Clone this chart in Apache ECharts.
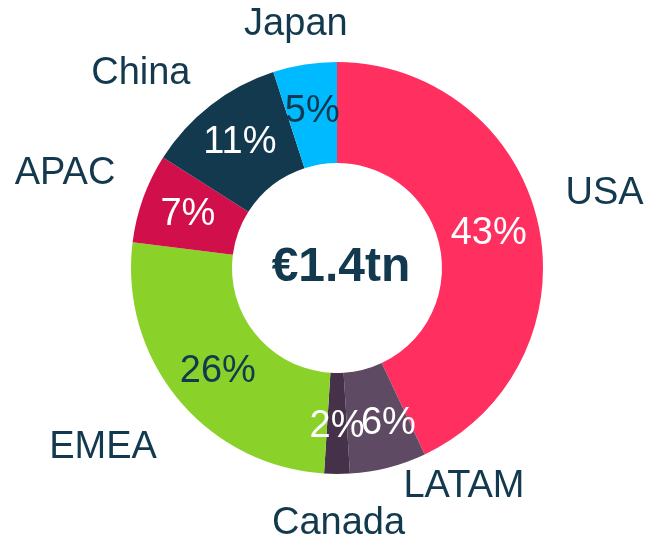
<!DOCTYPE html>
<html>
<head>
<meta charset="utf-8">
<script src="https://cdn.jsdelivr.net/npm/echarts@6/dist/echarts.min.js"></script>
<style>
  html, body { margin: 0; padding: 0; background: #fff; }
  #box { width: 646px; height: 539px; }
</style>
</head>
<body>
<div id="box"></div>
<script>
// regions, clockwise from 12 o'clock
const regions = ["USA", "LATAM", "Canada", "EMEA", "APAC", "China", "Japan"];
const shares = [43, 6, 2, 26, 7, 11, 5];
const totalLabel = "€1.4tn";

const colors = ["#ff3060", "#5f4a63", "#45324a", "#8ad22a", "#d10f4b", "#13394f", "#00baff"];
const pctColors = ["#fff", "#fff", "#fff", "#13394f", "#fff", "#fff", "#13394f"];
const navy = "#13394f";
// small nudges for the labels (px), like a hand-placed slide
const nameNudge = [[3, -25], [-56, 8], [-70, 5], [-1, 35], [-4, -18], [-3, -16], [51, -20]];
const pctNudge = [[-3, 0], [12, 2], [0, 0], [3, 2], [0, 0], [0, 0], [0, 0]];

let myChart = echarts.init(document.getElementById("box"));

const center = [337, 268];

myChart.setOption({
  animation: false,
  textStyle: { fontFamily: "Liberation Sans, Arial, sans-serif" },
  graphic: [
    {
      type: "text",
      x: center[0] + 4,
      y: center[1],
      style: {
        text: totalLabel,
        fill: navy,
        font: "bold 48px 'Liberation Sans', Arial, sans-serif",
        textAlign: "center",
        textVerticalAlign: "middle",
      },
    },
  ],
  series: [
    {
      // ring + percentages
      type: "pie",
      center: center,
      radius: [105, 206],
      startAngle: 90,
      clockwise: true,
      silent: true,
      avoidLabelOverlap: false,
      labelLayout: (p) => ({ hideOverlap: false, dx: pctNudge[p.dataIndex][0], dy: pctNudge[p.dataIndex][1] }),
      label: {
        show: true,
        position: "inside",
        fontSize: 38,
        formatter: "{c}%",
        overflow: "none",
      },
      labelLine: { show: false },
      data: regions.map((n, i) => ({
        name: n,
        value: shares[i],
        itemStyle: { color: colors[i] },
        label: { color: pctColors[i] },
      })),
    },
    {
      // names outside the ring
      type: "pie",
      center: center,
      radius: [105, 206],
      startAngle: 90,
      clockwise: true,
      silent: true,
      itemStyle: { color: "rgba(0,0,0,0)" },
      label: {
        show: true,
        position: "outside",
        fontSize: 38,
        color: navy,
        formatter: "{b}",
        overflow: "none",
      },
      labelLine: { show: false, length: 20, length2: 0 },
      labelLayout: (p) => ({ dx: nameNudge[p.dataIndex][0], dy: nameNudge[p.dataIndex][1] }),
      data: regions.map((n, i) => ({ name: n, value: shares[i] })),
    },
  ],
});
</script>
</body>
</html>
